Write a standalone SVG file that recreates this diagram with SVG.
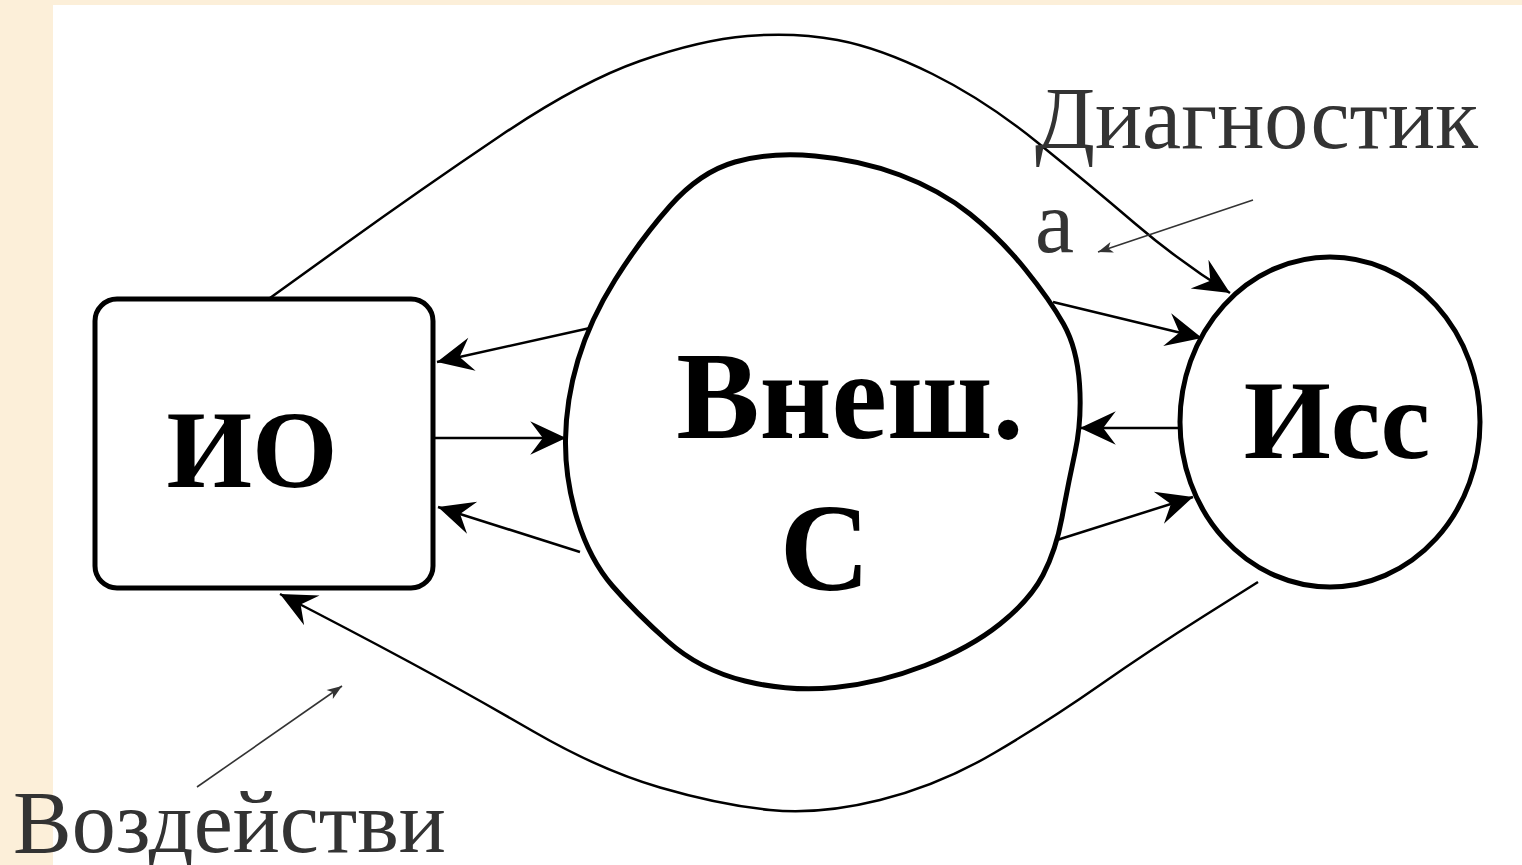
<svg xmlns="http://www.w3.org/2000/svg" width="1522" height="865" viewBox="0 0 1522 865">
<style>
.node{fill:#fff;stroke:#000;stroke-width:5;stroke-linejoin:round}
.lbl{font-family:"Liberation Serif","Times New Roman",serif;font-weight:bold;fill:#000}
.cap{font-family:"Liberation Serif","Times New Roman",serif;fill:#333;font-size:88px}
.con{fill:none;stroke:#000;stroke-width:2.5}
.thin{fill:none;stroke:#333;stroke-width:1.6}
</style>
<defs>
<marker id="ah" markerUnits="userSpaceOnUse" markerWidth="40" markerHeight="40" viewBox="-36 -18 38 36" refX="0" refY="0" orient="auto">
<path d="M0,0 L-34,-16 L-22,0 L-34,16 Z" fill="#000"/>
</marker>
<marker id="sh" markerUnits="userSpaceOnUse" markerWidth="20" markerHeight="14" viewBox="-16 -7 17 14" refX="0" refY="0" orient="auto">
<path d="M0,0 L-15,-5.5 L-11,0 L-15,5.5 Z" fill="#333"/>
</marker>
</defs>
<rect x="0" y="0" width="1522" height="865" fill="#FCEFD9"/>
<rect x="53" y="5" width="1469" height="860" fill="#fff"/>

<g id="connectors">
<path class="con" d="M270,298 L345,244 Q420,190 500,136 Q580,82 640,61 Q700,40 747.5,36 Q795,32 837.5,40 Q880,48 932.5,74 Q985,100 1037.5,142.5 Q1090,185 1135,223.5 Q1180,262 1230,293" marker-end="url(#ah)"/>
<path class="con" d="M1258,582 L1204,616 Q1150,650 1100,685 Q1050,720 995,752.5 Q940,785 880,800 Q820,815 770,810 Q720,805 660,787.5 Q600,770 533.5,731.5 Q467,693 408.5,661.5 Q350,630 280,594" marker-end="url(#ah)"/>
<line class="con" x1="590" y1="328" x2="437" y2="362" marker-end="url(#ah)"/>
<line class="con" x1="435" y1="438" x2="566" y2="438" marker-end="url(#ah)"/>
<line class="con" x1="580" y1="552" x2="438" y2="507" marker-end="url(#ah)"/>
<line class="con" x1="1053" y1="302" x2="1202" y2="338" marker-end="url(#ah)"/>
<line class="con" x1="1180" y1="428" x2="1080" y2="428" marker-end="url(#ah)"/>
<line class="con" x1="1057" y1="540" x2="1193" y2="497" marker-end="url(#ah)"/>
<line class="thin" x1="1253" y1="200" x2="1098" y2="252" marker-end="url(#sh)"/>
<line class="thin" x1="197" y1="787" x2="342" y2="686" marker-end="url(#sh)"/>
</g>

<g id="node-io">
<rect class="node" x="95" y="299" width="338" height="289" rx="22" ry="22"/>
<text class="lbl" x="252" y="487" font-size="110" text-anchor="middle">ИО</text>
</g>

<g id="node-vnesh">
<path class="node" d="M735,162 Q770,152 815,156 Q860,160 900,175 Q940,190 970,214 Q1000,238 1025,269 Q1050,300 1063.5,324 Q1077,348 1079.5,384 Q1082,420 1075,452.5 Q1068,485 1062,517.5 Q1056,550 1043,575 Q1030,600 1000,624 Q970,648 925,665.5 Q880,683 835,687.5 Q790,692 745,681 Q700,670 667.5,641 Q635,612 612.5,586 Q590,560 577.5,520 Q565,480 565.5,440 Q566,400 578,360 Q590,320 615,280 Q640,240 670,206 Q700,172 735,162 Z"/>
<text class="lbl" x="850" y="438" font-size="125" text-anchor="middle">Внеш.</text>
<text class="lbl" x="825" y="590" font-size="125" text-anchor="middle">С</text>
</g>

<g id="node-iss">
<ellipse class="node" cx="1330" cy="422" rx="150" ry="165"/>
<text class="lbl" x="1337" y="458" font-size="112" text-anchor="middle">Исс</text>
</g>

<g id="label-diag">
<text class="cap" x="1035" y="148">Диагностик</text>
<text class="cap" x="1035" y="252">а</text>
</g>
<g id="label-vozd">
<text class="cap" x="13" y="852">Воздействи</text>
</g>
</svg>
